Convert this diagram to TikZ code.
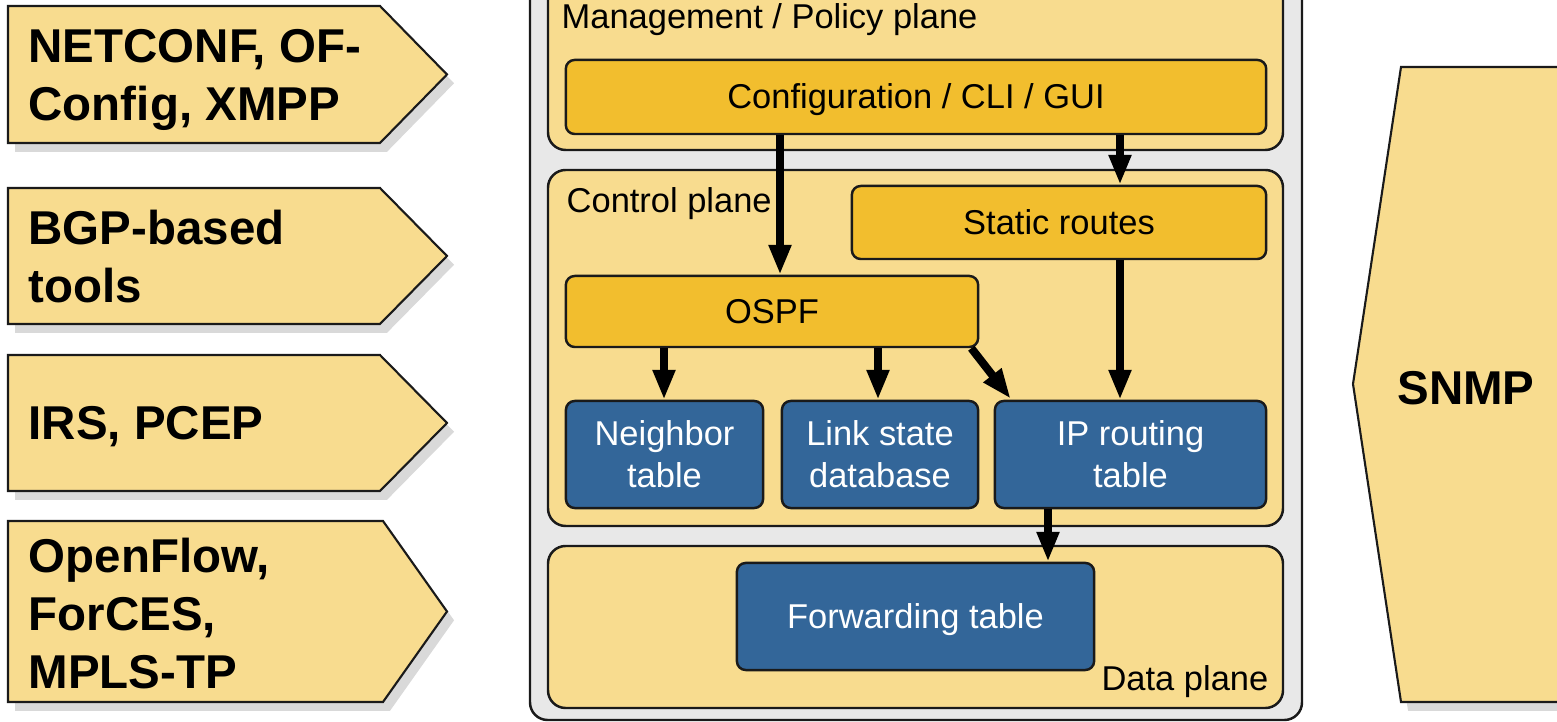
\documentclass[tikz,border=0pt]{standalone}
\usepackage{fontspec}
\setmainfont{Liberation Sans}
\usetikzlibrary{arrows.meta,shadows,calc}
\definecolor{lightyel}{HTML}{F8DC8F}
\definecolor{goldfill}{HTML}{F2BE2E}
\definecolor{boxblue}{HTML}{336699}
\definecolor{outergray}{HTML}{E8E8E8}
\definecolor{edgecol}{HTML}{1A1A1A}
\begin{document}
\begin{tikzpicture}[x=0.01cm,y=-0.01cm,
 plane/.style={draw=edgecol, line width=0.7pt, fill=lightyel, rounded corners=5pt},
 box/.style={draw=edgecol, line width=0.7pt, rounded corners=2.5pt, inner sep=0pt,
   font=\fontsize{9.8}{12}\selectfont, align=center},
 oneline/.style={text height=7pt, text depth=0.2pt},
 goldbox/.style={box, fill=goldfill, text=black},
 bluebx/.style={box, fill=boxblue, text=white},
 arr/.style={line width=2.3pt, -{Triangle[length=8.5pt,width=6pt]}},
 tag/.style={draw=edgecol, line width=0.6pt, fill=lightyel,
   drop shadow={shadow xshift=2pt, shadow yshift=-2.5pt, opacity=0.3}},
 tagtext/.style={font=\bfseries\fontsize{13.5}{16.5}\selectfont, align=left, inner sep=0pt, anchor=west},
 planelabel/.style={font=\fontsize{9.8}{12}\selectfont, inner sep=0pt}
]
\clip (0,0) rectangle (1557,722);

% left tags
\draw[tag] (8,6) -- (380,6) -- (447,74.5) -- (380,143) -- (8,143) -- cycle;
\node[tagtext] (netconf) at (28,80) {NETCONF, OF-\\Config, XMPP};
\draw[tag] (8,188) -- (380,188) -- (447,256) -- (380,324) -- (8,324) -- cycle;
\node[tagtext] (bgp) at (28,257) {BGP-based\\tools};
\draw[tag] (8,355) -- (380,355) -- (447,423) -- (380,491) -- (8,491) -- cycle;
\node[tagtext] (irs) at (28,427) {IRS, PCEP};
\draw[tag] (8,521) -- (383,521) -- (447,611.5) -- (383,702) -- (8,702) -- cycle;
\node[tagtext] (openflow) at (28,613.5) {OpenFlow,\\ForCES,\\MPLS-TP};

% SNMP
\draw[tag] (1620,67) -- (1401,67) -- (1353,384) -- (1401,702) -- (1620,702) -- cycle;
\node[font=\bfseries\fontsize{13.5}{16.5}\selectfont, inner sep=0pt] (snmp) at (1466,388) {SNMP};

% outer box and planes
\draw[draw=edgecol, line width=0.7pt, fill=outergray, rounded corners=5pt] (530,-30) rectangle (1302,720);
\draw[plane] (548,-30) rectangle (1283,150);
\draw[plane] (548,170) rectangle (1283,526);
\draw[plane] (548,546) rectangle (1283,708);
\node[planelabel, anchor=base west] (mgmtlabel) at (561,29) {Management / Policy plane};
\node[planelabel, anchor=base west] (ctrllabel) at (566,213) {Control plane};
\node[planelabel, anchor=base east] (datalabel) at (1269,691) {Data plane};

% boxes
\node[goldbox, oneline, minimum width=7cm, minimum height=0.74cm] (config) at (916,97) {Configuration / CLI / GUI};
\node[goldbox, oneline, minimum width=4.14cm, minimum height=0.73cm] (static) at (1059,222.5) {Static routes};
\node[goldbox, oneline, minimum width=4.12cm, minimum height=0.71cm] (ospf) at (772,311.5) {OSPF};
\node[bluebx, minimum width=1.97cm, minimum height=1.07cm] (neigh) at (664.5,454.5) {Neighbor\\table};
\node[bluebx, minimum width=1.96cm, minimum height=1.07cm] (lsdb) at (880,454.5) {Link state\\database};
\node[bluebx, minimum width=2.71cm, minimum height=1.07cm] (iprt) at (1130.5,454.5) {IP routing\\table};
\node[bluebx, oneline, minimum width=3.57cm, minimum height=1.07cm] (fwd) at (915.5,616.5) {Forwarding table};

% arrows
\draw[arr] (config.south -| 780,0) -- (ospf.north -| 780,0);
\draw[arr] (config.south -| 1120,0) -- (static.north -| 1120,0);
\draw[arr] (static.south -| 1120,0) -- (iprt.north -| 1120,0);
\draw[arr] (ospf.south -| 664,0) -- (neigh.north -| 664,0);
\draw[arr] (ospf.south -| 878,0) -- (lsdb.north -| 878,0);
\draw[arr] ($(ospf.south east)+(-8,0)$) -- ($(iprt.north west)+(17,-1)$);
\draw[arr] (iprt.south -| 1048,0) -- (fwd.north -| 1048,0);
\end{tikzpicture}
\end{document}
